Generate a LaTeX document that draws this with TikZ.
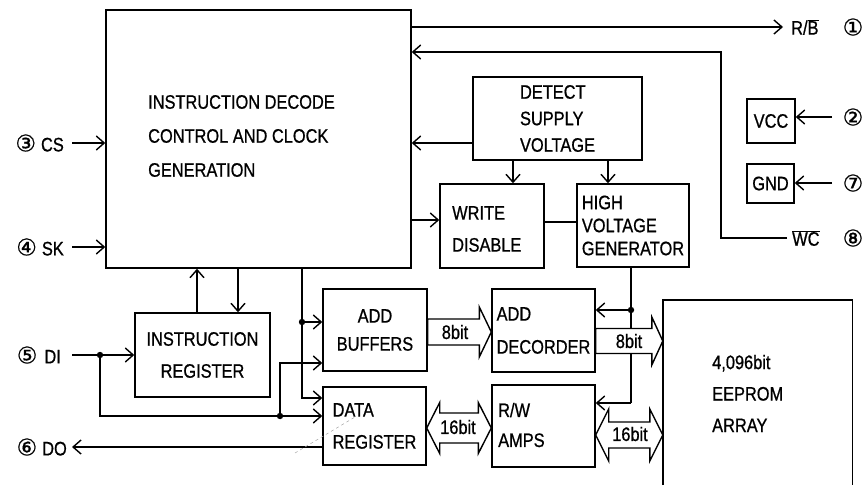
\documentclass[tikz,border=0pt]{standalone}
\usepackage{fontspec}
\setmainfont{Liberation Sans}[FakeStretch=0.84,FakeBold=0.8]
\newfontfamily\cnum{DejaVu Sans}[FakeBold=0.6]
\usetikzlibrary{arrows.meta,calc}
\newcommand{\cn}[1]{{\cnum\fontsize{23}{23}\selectfont #1}}
\newcommand{\fatR}[5]{\filldraw[fatst] ($(#1)+(0,-#3)$) -- ($(#2)+(-#5,-#3)$) -- ($(#2)+(-#5,-#4)$) -- (#2) -- ($(#2)+(-#5,#4)$) -- ($(#2)+(-#5,#3)$) -- ($(#1)+(0,#3)$) -- cycle;}
\newcommand{\fatLR}[5]{\filldraw[fatst] (#1) -- ($(#1)+(#5,-#4)$) -- ($(#1)+(#5,-#3)$) -- ($(#2)+(-#5,-#3)$) -- ($(#2)+(-#5,-#4)$) -- (#2) -- ($(#2)+(-#5,#4)$) -- ($(#2)+(-#5,#3)$) -- ($(#1)+(#5,#3)$) -- ($(#1)+(#5,#4)$) -- cycle;}
\begin{document}
\begin{tikzpicture}[x=1pt,y=-1pt,
  font=\fontsize{19.5}{22}\selectfont,
  box/.style={draw,line width=1.4pt,inner sep=0pt},
  wire/.style={line width=1.4pt},
  arr/.style={wire,-{Straight Barb[length=8pt,width=14pt]}},
  fatst/.style={line width=1.4pt,fill=white,line join=miter},
  pin/.style={inner sep=0pt},
  txt/.style={inner sep=0pt,align=left,font=\fontsize{19.5}{#1}\selectfont},
  dot/.style={fill=black}
]
\useasboundingbox (0,0) rectangle (866,487);

% ---------- blocks ----------
\node[box,minimum width=305pt,minimum height=258pt] (ctrl) at (258.5,139) {};
\node[txt=34,anchor=west] (ctrltext) at (148,136) {INSTRUCTION DECODE\\CONTROL AND CLOCK\\GENERATION};

\node[box,minimum width=169pt,minimum height=83pt,align=left,font=\fontsize{19.5}{26.5}\selectfont] (detect) at (557.5,118.5) {DETECT\\SUPPLY\\VOLTAGE};

\node[box,minimum width=104pt,minimum height=84pt] (write) at (492,226) {};
\node[txt=32,anchor=west] (writetext) at (452,229) {WRITE\\DISABLE};

\node[box,minimum width=112pt,minimum height=83pt,align=left,font=\fontsize{19.5}{23}\selectfont] (hv) at (633,225.5) {HIGH\\VOLTAGE\\GENERATOR};

\node[box,minimum width=48pt,minimum height=44pt] (vcc) at (771,121) {VCC};
\node[box,minimum width=47pt,minimum height=39pt] (gnd) at (770.5,183.5) {GND};

\node[box,minimum width=135pt,minimum height=84pt,align=center,font=\fontsize{19.5}{32}\selectfont] (ir) at (202.5,355) {INSTRUCTION\\REGISTER};

\node[box,minimum width=104pt,minimum height=82pt,align=center,font=\fontsize{19.5}{28}\selectfont] (addbuf) at (375,330) {ADD\\BUFFERS};

\node[box,minimum width=103pt,minimum height=78pt,align=left,font=\fontsize{19.5}{32}\selectfont] (datareg) at (374.5,426) {DATA\\REGISTER};

\node[box,minimum width=103pt,minimum height=83pt,align=left,font=\fontsize{19.5}{33}\selectfont] (adddec) at (543.5,330.5) {ADD\\DECORDER};

\node[box,minimum width=103pt,minimum height=82pt] (rw) at (543.5,426) {};
\node[txt=30,anchor=west] (rwtext) at (498,425) {R/W\\AMPS};

\node[minimum width=189pt,minimum height=185pt,inner sep=0pt] (ee) at (757.5,392.5) {};
\draw[wire] (ee.south west) -- (ee.north west) -- (ee.north east) -- (ee.south east);
\node[txt=31.5,anchor=west] (eetext) at (712,393.5) {4,096bit\\EEPROM\\ARRAY};

% ---------- pins ----------
\coordinate (cs) at (72,143);
\node[pin,anchor=east] (pcs) at (64,143) {\cn{③}\hspace{5pt}CS};
\draw[arr] (cs) -- (cs -| ctrl.west);

\coordinate (sk) at (72,247);
\node[pin,anchor=east] (psk) at (64,247) {\cn{④}\hspace{5pt}SK};
\draw[arr] (sk) -- (sk -| ctrl.west);

\coordinate (di) at (72,355);
\node[pin,anchor=east] (pdi) at (61,355) {\cn{⑤}\hspace{7pt}DI};
\draw[arr] (di) -- (di -| ir.west);

\coordinate (do) at (72,447);
\node[pin,anchor=east] (pdo) at (67,447) {\cn{⑥}\hspace{5pt}DO};
\draw[arr] (do -| datareg.west) -- (do);

\coordinate (rb) at (783,27);
\draw[arr] (rb -| ctrl.east) -- (rb);
\node[pin,anchor=west] (prb) at (791,27) {R/$\overline{\hbox{B}}$};
\node[pin] (n1) at (853,27) {\cn{①}};

\coordinate (wc) at (787,238);
\coordinate (wcturn) at (721,52);
\draw[arr] (wc) -| (wcturn) -- (wcturn -| ctrl.east);
\node[pin,anchor=west] (pwc) at (792,238) {$\overline{\hbox{WC}}$};
\node[pin] (n8) at (853,238) {\cn{⑧}};

\coordinate (v2) at (832,117);
\draw[arr] (v2) -- (v2 -| vcc.east);
\node[pin] (n2) at (853,117) {\cn{②}};

\coordinate (g7) at (832,183);
\draw[arr] (g7) -- (g7 -| gnd.east);
\node[pin] (n7) at (853,183) {\cn{⑦}};

% ---------- internal connectors ----------
\draw[arr] (detect.west |- 0,143) -- (ctrl.east |- 0,143);
\draw[arr] (detect.south -| 513,0) -- (write.north -| 513,0);
\draw[arr] (detect.south -| 608,0) -- (hv.north -| 608,0);
\draw[arr] (ctrl.east |- 0,220) -- (write.west |- 0,220);
\draw[wire] (write.east |- 0,222) -- (hv.west |- 0,222);

\coordinate (hvd) at (631,310);
\coordinate (hve) at (631,403);
\draw[wire] (hv.south -| hvd) -- (hve);
\draw[arr] (hvd) -- (hvd -| adddec.east);
\draw[arr] (hve) -- (hve -| rw.east);
\fill[dot] (hvd) circle (3.2pt);

\draw[arr] (ir.north -| 197,0) -- (ctrl.south -| 197,0);
\draw[arr] (ctrl.south -| 238,0) -- (ir.north -| 238,0);

\coordinate (cb) at (302,322);
\coordinate (cd) at (302,398);
\draw[arr] (ctrl.south -| cb) -- (cd) -- (cd -| datareg.west);
\draw[arr] (cb) -- (cb -| addbuf.west);
\fill[dot] (cb) circle (3.2pt);

\coordinate (dia) at (100,355);
\coordinate (dib) at (280,416);
\coordinate (dic) at (280,363);
\draw[arr] (dia) |- (dib -| datareg.west);
\draw[arr] (dib) -- (dic) -- (dic -| addbuf.west);
\fill[dot] (dia) circle (3.2pt);
\fill[dot] (dib) circle (3.2pt);

% ---------- bus arrows ----------
\coordinate (f1a) at (addbuf.east |- 0,332);
\coordinate (f1b) at (adddec.west |- 0,332);
\fatR{f1a}{f1b}{13}{25}{12}
\node[pin] (l1) at (455,332) {8bit};

\coordinate (f2a) at (adddec.east |- 0,341);
\coordinate (f2b) at (ee.west |- 0,341);
\fatR{f2a}{f2b}{12.5}{24}{11}
\node[pin] (l2) at (629,341) {8bit};

\coordinate (f3a) at (datareg.east |- 0,428);
\coordinate (f3b) at (rw.west |- 0,428);
\fatLR{f3a}{f3b}{15}{25.5}{13}
\node[pin] (l3) at (458,427) {16bit};

\coordinate (f4a) at (rw.east |- 0,435);
\coordinate (f4b) at (ee.west |- 0,435);
\fatLR{f4a}{f4b}{13}{26}{13}
\node[pin] (l4) at (630,434) {16bit};

% faint scan mark
\draw[gray!70,dashed,line width=0.5pt] (295,453) -- (355,417);
\end{tikzpicture}
\end{document}
